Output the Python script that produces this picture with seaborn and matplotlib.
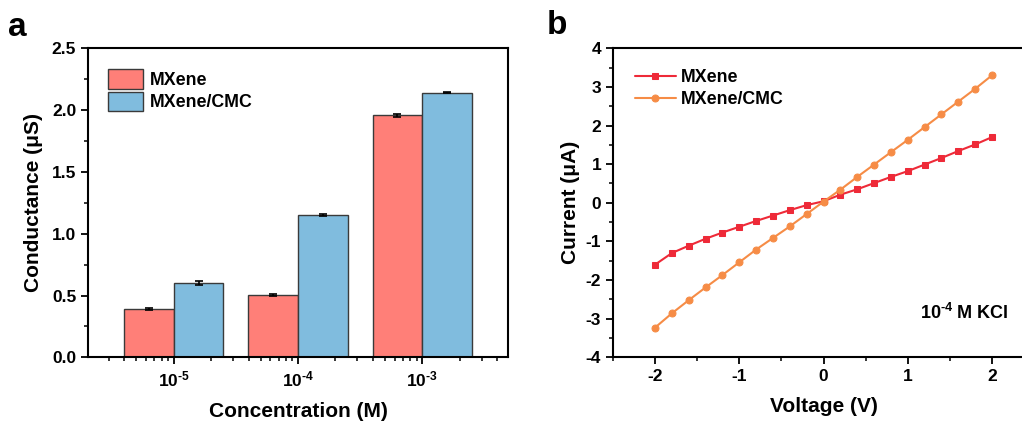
import numpy as np
import pandas as pd
import matplotlib
matplotlib.use("Agg")
import matplotlib.pyplot as plt
import seaborn as sns

# ---- data: panel a ----
concentrations = [1e-5, 1e-4, 1e-3]
conc_labels = [r"$10^{\text{-}5}$", r"$10^{\text{-}4}$", r"$10^{\text{-}3}$"]
mxene_cond = [0.388, 0.507, 1.957]
mxene_err = [0.008, 0.008, 0.012]
cmc_cond = [0.601, 1.149, 2.140]
cmc_err = [0.016, 0.007, 0.004]

# ---- data: panel b ----
voltage = [-2.0, -1.8, -1.6, -1.4, -1.2, -1.0, -0.8, -0.6, -0.4, -0.2, 0.0,
           0.2, 0.4, 0.6, 0.8, 1.0, 1.2, 1.4, 1.6, 1.8, 2.0]
mxene_current = [-1.60, -1.30, -1.11, -0.93, -0.77, -0.62, -0.47, -0.33, -0.19, -0.06, 0.04,
                 0.21, 0.35, 0.51, 0.67, 0.82, 0.99, 1.16, 1.34, 1.51, 1.70]
cmc_current = [-3.23, -2.86, -2.52, -2.19, -1.87, -1.54, -1.21, -0.91, -0.61, -0.29, 0.03,
               0.34, 0.67, 0.99, 1.31, 1.63, 1.96, 2.29, 2.62, 2.95, 3.30]

series_names = ["MXene", "MXene/CMC"]
bar_colors = ["#FF7F78", "#80BCDE"]
line_colors = ["#EE2A38", "#F68C46"]

sns.set_style("ticks")
plt.rcParams["font.family"] = ["Liberation Sans", "DejaVu Sans"]
plt.rcParams["font.weight"] = "bold"
plt.rcParams["axes.labelweight"] = "bold"
plt.rcParams["mathtext.fontset"] = "custom"
plt.rcParams["mathtext.rm"] = "Liberation Sans:bold"
plt.rcParams["mathtext.it"] = "Liberation Sans:bold"
plt.rcParams["mathtext.bf"] = "Liberation Sans:bold"
plt.rcParams["mathtext.default"] = "rm"
plt.rcParams["axes.unicode_minus"] = False
plt.rcParams["axes.linewidth"] = 1.5
plt.rcParams["xtick.major.width"] = 1.3
plt.rcParams["ytick.major.width"] = 1.3
plt.rcParams["xtick.minor.width"] = 1.1
plt.rcParams["ytick.minor.width"] = 1.1
plt.rcParams["xtick.major.size"] = 5
plt.rcParams["ytick.major.size"] = 5
plt.rcParams["xtick.minor.size"] = 3
plt.rcParams["ytick.minor.size"] = 3
plt.rcParams["xtick.color"] = "black"
plt.rcParams["ytick.color"] = "black"
plt.rcParams["axes.edgecolor"] = "black"
plt.rcParams["text.color"] = "black"
plt.rcParams["axes.labelcolor"] = "black"

fig = plt.figure(figsize=(10.22, 4.23), dpi=100)
ax1 = fig.add_axes([0.0861, 0.1553, 0.411, 0.7305])
ax2 = fig.add_axes([0.5998, 0.1553, 0.412, 0.7305])

# ---- panel a ----
df_bar = pd.DataFrame({
    "conc": concentrations * 2,
    "value": mxene_cond + cmc_cond,
    "err": mxene_err + cmc_err,
    "group": [series_names[0]] * 3 + [series_names[1]] * 3,
})
sns.barplot(data=df_bar, x="conc", y="value", hue="group", hue_order=series_names,
            palette=bar_colors, native_scale=True, log_scale=(10, None),
            errorbar=None, edgecolor="#3a3a3a", linewidth=1.0, saturation=1,
            width=0.8, ax=ax1)

# error bars at bar centres
patches = [p for p in ax1.patches if p.get_height() > 0]
patches_sorted = sorted(patches, key=lambda p: p.get_x())
xc = []
for p in patches_sorted:
    x0 = p.get_x()
    x1 = x0 + p.get_width()
    xc.append(np.sqrt(x0 * x1))
vals = []
errs = []
for i in range(3):
    vals += [mxene_cond[i], cmc_cond[i]]
    errs += [mxene_err[i], cmc_err[i]]
ax1.errorbar(xc, vals, yerr=errs, fmt="none", ecolor="black", elinewidth=1.2,
             capsize=3, capthick=1.2)

ax1.set_xscale("log")
ax1.set_xlim(10 ** -5.69, 10 ** -2.31)
ax1.set_ylim(0, 2.5)
ax1.set_xticks(concentrations)
ax1.set_xticklabels(conc_labels)
ax1.xaxis.set_minor_locator(matplotlib.ticker.LogLocator(base=10, subs=np.arange(2, 10)))
ax1.xaxis.set_minor_formatter(matplotlib.ticker.NullFormatter())
ax1.set_yticks([0, 0.5, 1.0, 1.5, 2.0, 2.5])
ax1.set_yticklabels(["0.0", "0.5", "1.0", "1.5", "2.0", "2.5"])
ax1.yaxis.set_minor_locator(matplotlib.ticker.MultipleLocator(0.25))
ax1.tick_params(axis="both", which="both", direction="out", labelsize=12.5, top=False, right=False)
ax1.tick_params(axis="x", which="major", pad=4)
ax1.set_xlabel("Concentration (M)", fontsize=15, labelpad=9)
ax1.set_ylabel("Conductance (μS)", fontsize=15, labelpad=6)
for s in ax1.spines.values():
    s.set_visible(True)
leg1 = ax1.legend(loc="upper left", bbox_to_anchor=(0.03, 0.955), frameon=False,
                  fontsize=12.8, handlelength=2.0, handleheight=1.3, handletextpad=0.35,
                  labelspacing=0.15, borderaxespad=0)
for t in leg1.get_texts():
    t.set_fontweight("bold")

# ---- panel b ----
sns.lineplot(x=voltage, y=mxene_current, ax=ax2, color=line_colors[0], marker="s",
             markersize=4.5, markeredgecolor=line_colors[0], linewidth=1.5, label=series_names[0])
sns.lineplot(x=voltage, y=cmc_current, ax=ax2, color=line_colors[1], marker="o",
             markersize=5, markeredgecolor=line_colors[1], linewidth=1.5, label=series_names[1])
ax2.set_xlim(-2.5, 2.5)
ax2.set_ylim(-4, 4)
ax2.set_xticks([-2, -1, 0, 1, 2])
ax2.xaxis.set_minor_locator(matplotlib.ticker.MultipleLocator(0.5))
ax2.set_yticks([-4, -3, -2, -1, 0, 1, 2, 3, 4])
ax2.yaxis.set_minor_locator(matplotlib.ticker.MultipleLocator(0.5))
ax2.tick_params(axis="both", which="both", direction="out", labelsize=12.5, top=False, right=False)
ax2.set_xlabel("Voltage (V)", fontsize=15, labelpad=9)
ax2.set_ylabel("Current (μA)", fontsize=15, labelpad=4)
leg2 = ax2.legend(loc="upper left", bbox_to_anchor=(0.035, 0.955), frameon=False,
                  fontsize=12.8, handlelength=2.3, handletextpad=0.3,
                  labelspacing=0.25, borderaxespad=0)
for t in leg2.get_texts():
    t.set_fontweight("bold")
ax2.text(0.73, 0.145, r"$10^{\text{-}4}$ M KCl", transform=ax2.transAxes, fontsize=13,
         fontweight="bold", ha="left", va="center")

fig.text(0.008, 0.935, "a", fontsize=24, fontweight="bold", ha="left", va="center")
fig.text(0.535, 0.94, "b", fontsize=24, fontweight="bold", ha="left", va="center")

fig.savefig("out.png", dpi=100)
